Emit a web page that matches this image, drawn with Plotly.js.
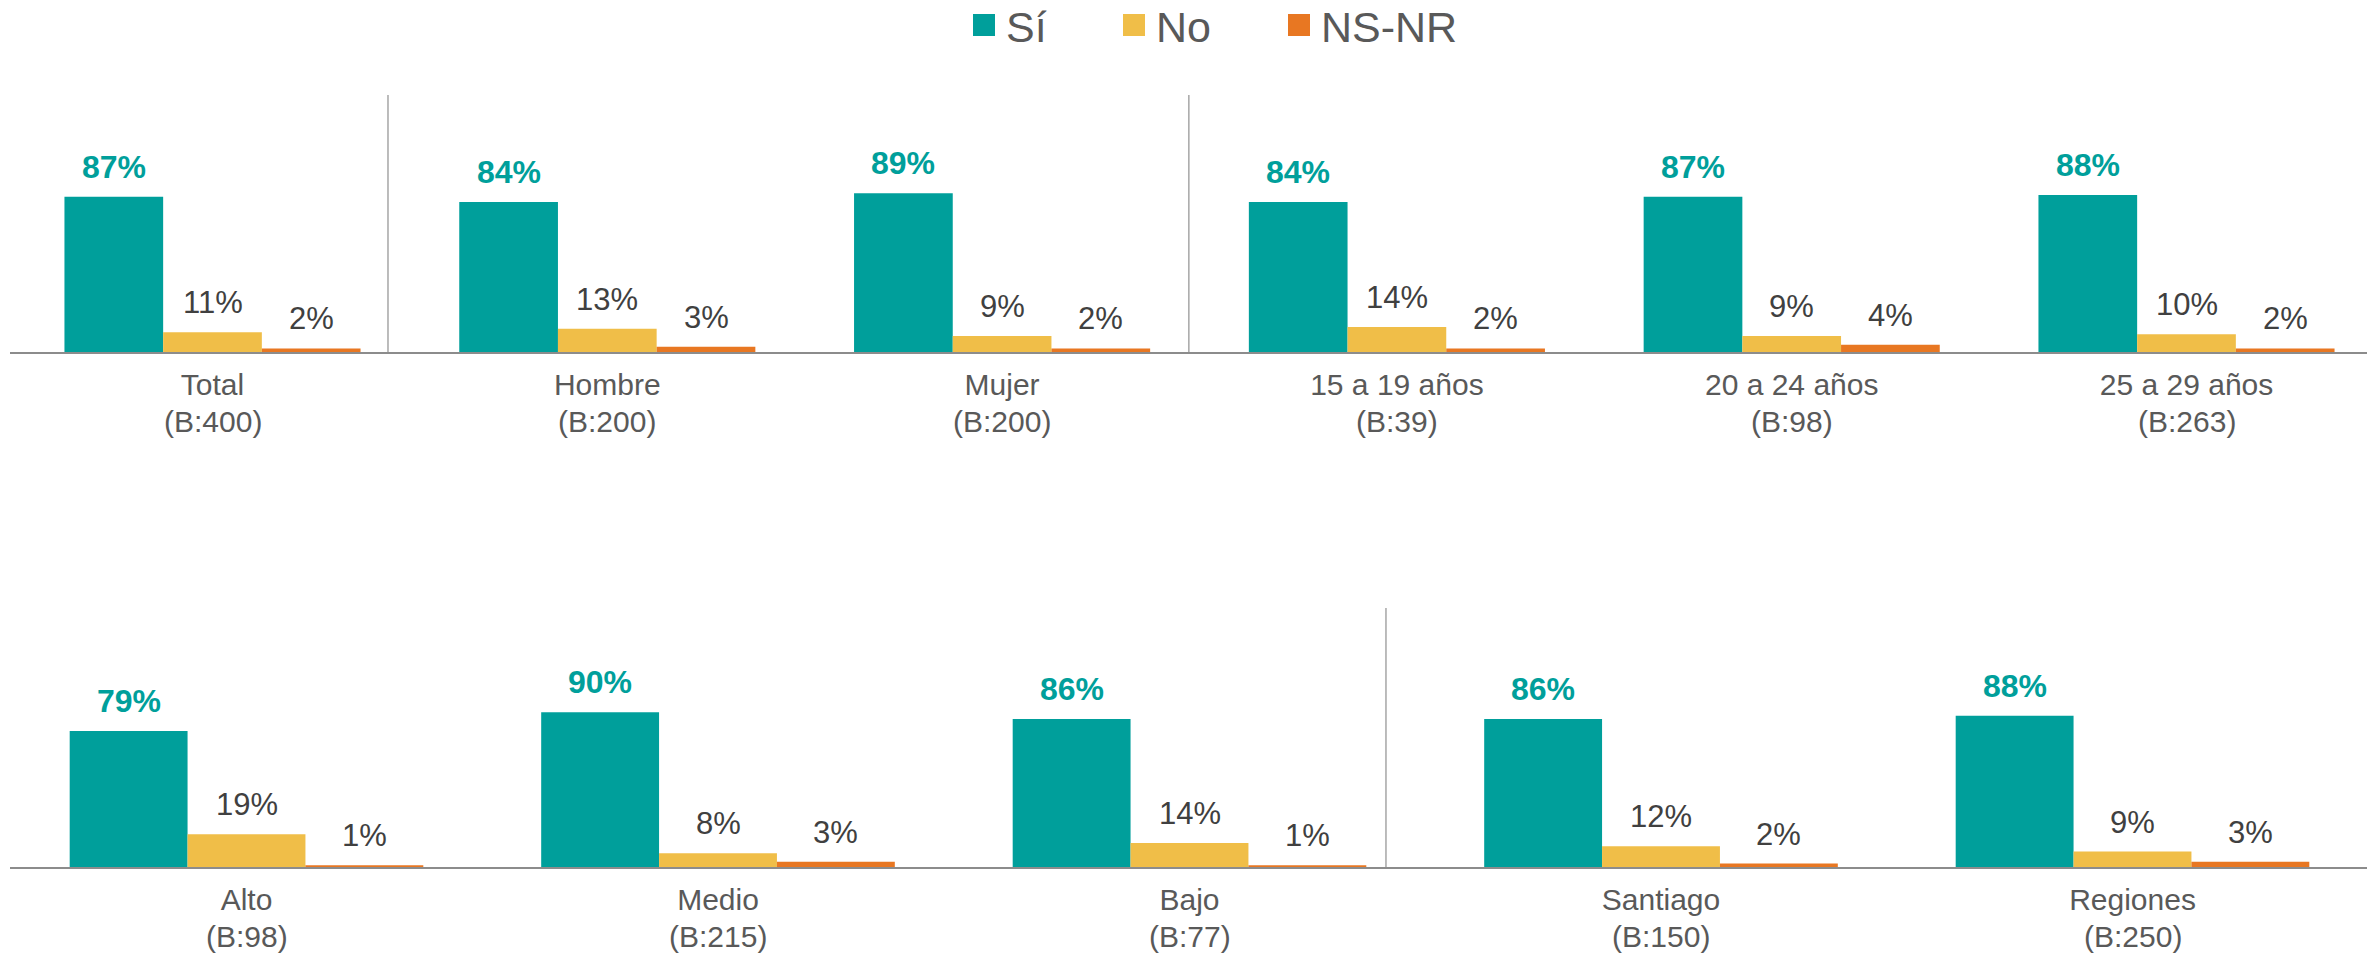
<!DOCTYPE html>
<html>
<head>
<meta charset="utf-8">
<script src="https://cdn.plot.ly/plotly-3.0.1.min.js"></script>
<style>
  html, body { margin: 0; padding: 0; background: #ffffff; }
  #chart { width: 2367px; height: 953px; }
</style>
</head>
<body>
<div id="chart"></div>
<script>
// ---------- DATA ----------
const seriesNames = ['Sí', 'No', 'NS-NR'];

const topCategories = ['Total', 'Hombre', 'Mujer', '15 a 19 años', '20 a 24 años', '25 a 29 años'];
const topBases      = ['(B:400)', '(B:200)', '(B:200)', '(B:39)', '(B:98)', '(B:263)'];
const topSi   = [87, 84, 89, 84, 87, 88];
const topNo   = [11, 13, 9, 14, 9, 10];
const topNsNr = [2, 3, 2, 2, 4, 2];

const botCategories = ['Alto', 'Medio', 'Bajo', 'Santiago', 'Regiones'];
const botBases      = ['(B:98)', '(B:215)', '(B:77)', '(B:150)', '(B:250)'];
const botSi   = [79, 90, 86, 86, 88];
const botNo   = [19, 8, 14, 12, 9];
const botNsNr = [1, 3, 1, 2, 3];

// ---------- STYLE / LAYOUT ----------
const W = 2367, H = 953;
const FONT = 'Liberation Sans, Arial, Helvetica, sans-serif';
const colors = ['#009F9B', '#F0BE48', '#E87722'];
const labelColors = ['#009F9B', '#404040', '#404040'];
const AX_LEFT = 10;
const BARGAP = 0.25;
const NSER = 3;

const rows = [
  { cats: topCategories, bases: topBases, series: [topSi, topNo, topNsNr],
    c0: 212.5, step: 394.8, base: 352, top: 95, ppu: 1.785, xa: 'x', ya: 'y',
    seps: [0.4445, 2.473] },
  { cats: botCategories, bases: botBases, series: [botSi, botNo, botNsNr],
    c0: 246.5, step: 471.5, base: 867, top: 608, ppu: 1.72, xa: 'x2', ya: 'y2',
    seps: [2.4167] }
];

const legendWidths = [101, 116, 140];

const traces = [];
const annotations = [];
const shapes = [];
const layout = {
  width: W, height: H,
  margin: { l: 0, r: 0, t: 0, b: 0, pad: 0, autoexpand: false },
  paper_bgcolor: '#ffffff', plot_bgcolor: 'rgba(0,0,0,0)',
  barmode: 'group', bargap: BARGAP, bargroupgap: 0,
  font: { family: FONT, color: '#595959' },
  showlegend: true,
  legend: {
    orientation: 'h', x: 962 / W, xanchor: 'left', y: 1 - 25 / H, yanchor: 'middle',
    font: { family: FONT, size: 43, color: '#595959' },
    itemwidth: 34, bgcolor: 'rgba(0,0,0,0)', borderwidth: 0,
    traceorder: 'normal', itemclick: false, itemdoubleclick: false
  },
  hovermode: false
};

rows.forEach((r, ri) => {
  const xName = ri === 0 ? 'xaxis' : 'xaxis2';
  const yName = ri === 0 ? 'yaxis' : 'yaxis2';
  layout[xName] = {
    type: 'category', anchor: r.ya,
    domain: [AX_LEFT / W, 1],
    range: [(AX_LEFT - r.c0) / r.step, (W - r.c0) / r.step],
    showline: true, linecolor: '#8C8C8C', linewidth: 2,
    showgrid: false, zeroline: false, ticks: '',
    tickfont: { family: FONT, size: 30, color: '#595959' },
    ticklabelstandoff: 5, automargin: false, fixedrange: true
  };
  layout[yName] = {
    anchor: r.xa,
    domain: [(H - r.base) / H, (H - r.top) / H],
    range: [0, (r.base - r.top) / r.ppu],
    visible: false, showgrid: false, zeroline: false, fixedrange: true
  };
  r.series.forEach((vals, s) => {
    traces.push({
      type: 'bar', x: r.cats, y: vals, name: seriesNames[s],
      xaxis: r.xa, yaxis: r.ya,
      marker: { color: colors[s], line: { width: 0 } },
      legendgroup: seriesNames[s], showlegend: ri === 0,
      legendwidth: legendWidths[s],
      hoverinfo: 'skip', cliponaxis: false
    });
    const barW = (1 - BARGAP) / NSER;
    vals.forEach((v, i) => {
      annotations.push({
        xref: r.xa, yref: r.ya,
        x: i + (s - (NSER - 1) / 2) * barW, y: v,
        text: v + '%', showarrow: false,
        xanchor: 'center', yanchor: 'bottom', yshift: 10,
        font: { family: FONT, size: s === 0 ? 32 : 31, color: labelColors[s],
                weight: s === 0 ? 'bold' : 'normal' }
      });
    });
  });
  r.bases.forEach((b, i) => {
    annotations.push({
      xref: r.xa, yref: r.ya, x: i, y: 0, text: b, showarrow: false,
      xanchor: 'center', yanchor: 'top', yshift: -51,
      font: { family: FONT, size: 30, color: '#595959' }
    });
  });
  r.seps.forEach(sx => {
    shapes.push({
      type: 'line', xref: r.xa, yref: r.ya + ' domain',
      x0: sx, x1: sx, y0: 0, y1: 1,
      line: { color: '#A6A6A6', width: 1.5 }
    });
  });
});

layout.annotations = annotations;
layout.shapes = shapes;

Plotly.newPlot('chart', traces, layout, { displayModeBar: false, staticPlot: true })
  .then(() => {
    document.querySelectorAll('.legend .legendpoints path').forEach(p => {
      const t = p.getAttribute('transform') || '';
      p.setAttribute('transform', t + ' scale(1.833)');
    });
  });
</script>
</body>
</html>
